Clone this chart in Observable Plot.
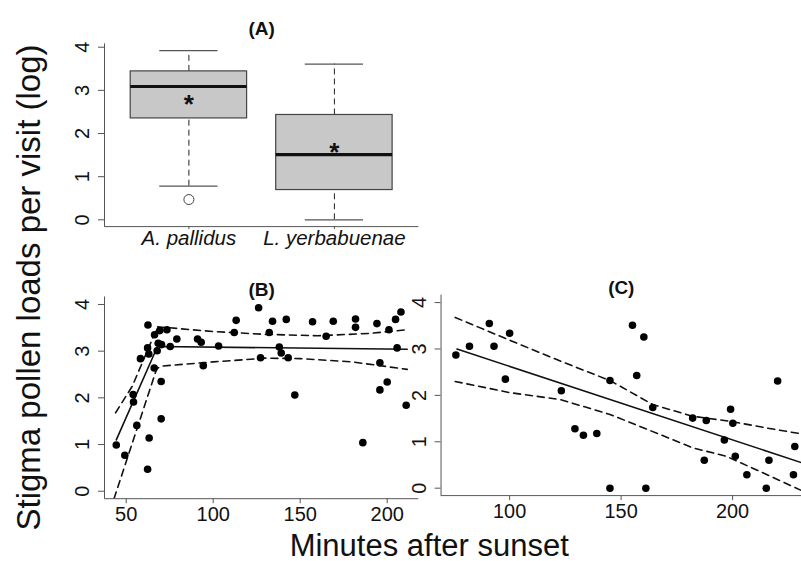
<!DOCTYPE html>
<html>
<head>
<meta charset="utf-8">
<script src="https://cdn.jsdelivr.net/npm/d3@7"></script>
<script src="https://cdn.jsdelivr.net/npm/@observablehq/plot@0.6"></script>
<style>
  html, body { margin: 0; padding: 0; background: #fff; }
  #chart { position: relative; width: 801px; height: 561px; overflow: hidden; background: #fff; }
  #chart svg { position: absolute; left: 0; top: 0; }
</style>
</head>
<body>
<div id="chart"></div>
<script>
// ---------------- DATA ----------------
// Panel A: box plots
const speciesA = ["A. pallidus", "L. yerbabuenae"];
const whiskerLow = [0.78, 0.0];
const quartile1 = [2.35, 0.69];
const medianA = [3.09, 1.51];
const quartile3 = [3.44, 2.43];
const whiskerHigh = [3.92, 3.61];
const meanA = [2.80, 1.68];
const outlierSpecies = ["A. pallidus"];
const outlierValues = [0.47];

// Panel B: A. pallidus visits
const bMinutes = [44.3, 49.2, 54.0, 54.2, 56.1, 58.2, 62.5, 62.3, 63.0, 63.2, 62.3, 66.3, 69.3, 73.4, 68.4, 70.3, 67.8, 66.1, 70.1, 70.1, 75.3, 79.1, 91.0, 93.1, 94.3, 103.1, 112.1, 113.2, 126.1, 127.2, 132.2, 134.1, 138.0, 139.1, 142.0, 143.1, 146.9, 157.1, 164.9, 169.0, 181.8, 181.8, 186.0, 194.1, 195.8, 195.8, 200.0, 201.0, 204.8, 205.7, 207.9, 210.9];
const bLoads   = [0.99, 0.77, 2.07, 1.91, 1.41, 2.84, 3.56, 3.07, 2.94, 1.14, 0.47, 3.35, 3.44, 3.46, 3.17, 3.14, 3.01, 2.64, 2.35, 1.55, 3.10, 3.26, 3.26, 3.19, 2.69, 3.11, 3.40, 3.66, 3.93, 2.86, 3.40, 3.64, 3.09, 2.96, 3.68, 2.86, 2.06, 3.63, 3.32, 3.64, 3.69, 3.51, 1.04, 3.59, 2.75, 2.17, 2.34, 3.46, 3.68, 3.07, 3.84, 1.84];
const bFitMinutes = [44.3, 68.0, 211.5];
const bFitLoads   = [1.10, 3.10, 3.04];
const bUpperMinutes = [43.9, 53.5, 68.0, 75, 100, 130, 160, 190, 211.5];
const bUpperLoads   = [1.68, 2.25, 3.52, 3.50, 3.42, 3.36, 3.33, 3.38, 3.46];
const bLowerMinutes = [43.0, 67.5, 70, 100, 130, 150, 180, 211.5];
const bLowerLoads   = [-0.16, 2.62, 2.68, 2.77, 2.85, 2.84, 2.77, 2.61];

// Panel C: L. yerbabuenae visits
const cMinutes = [75.9, 82.0, 90.9, 93.0, 100.0, 98.1, 123.2, 129.3, 133.1, 139.1, 145.0, 145.0, 155.1, 157.0, 160.2, 161.1, 164.2, 182.1, 187.3, 188.2, 196.3, 199.1, 200.1, 201.2, 206.4, 215.1, 216.3, 220.2, 227.3, 227.9];
const cLoads   = [2.87, 3.06, 3.55, 3.06, 3.34, 2.35, 2.10, 1.28, 1.14, 1.18, 2.32, 0.0, 3.51, 2.43, 3.26, 0.0, 1.74, 1.51, 0.60, 1.46, 1.04, 1.70, 1.40, 0.69, 0.29, 0.0, 0.60, 2.31, 0.29, 0.90];
const cFitMinutes = [76.4, 230.9];
const cFitLoads   = [3.00, 0.55];
const cUpperMinutes = [75.6, 100, 122.7, 145, 164.3, 182.1, 199.1, 215, 230.9];
const cUpperLoads   = [3.68, 3.19, 2.74, 2.32, 1.80, 1.55, 1.44, 1.30, 1.17];
const cLowerMinutes = [75.6, 100, 122.7, 145, 167.3, 182.1, 197, 211.8, 230.9];
const cLowerLoads   = [2.30, 2.06, 1.91, 1.59, 1.16, 0.87, 0.69, 0.37, -0.05];

// Tick values & labels
const yTicks = [0, 1, 2, 3, 4];
const bTicks = [50, 100, 150, 200];
const cTicks = [100, 150, 200];
const panelTitles = ["(A)", "(B)", "(C)"];
const yAxisLabel = "Stigma pollen loads per visit (log)";
const xAxisLabel = "Minutes after sunset";

// ---------------- STYLE ----------------
const W = 801, H = 561;
const FONT = "'Liberation Sans', Arial, Helvetica, sans-serif";
const AX = "#555";
const TXT = "#111";
const baseStyle = {background: "transparent", fontFamily: FONT, color: TXT, overflow: "visible"};

function yTickMarks() {
  return [
    Plot.axisY({ticks: yTicks, tickSize: 6, tickFormat: () => "", stroke: AX, label: null}),
    Plot.text(yTicks, {y: d => d, text: d => String(d), frameAnchor: "left", dx: -22, rotate: -90,
      textAnchor: "middle", lineAnchor: "middle", fontSize: 20, fill: TXT})
  ];
}
function title(t, dy) {
  return Plot.text([t], {frameAnchor: "top", lineAnchor: "middle", dy, fontSize: 19, fontWeight: "bold", fill: TXT});
}

// ---------------- PANEL A ----------------
const boxes = speciesA.map((s, i) => ({
  species: s, pos: i + 1, lo: whiskerLow[i], q1: quartile1[i], med: medianA[i],
  q3: quartile3[i], hi: whiskerHigh[i], mean: meanA[i]
}));
const outliers = outlierSpecies.map((s, i) => ({pos: speciesA.indexOf(s) + 1, value: outlierValues[i]}));
const xDomA = [0.42, 2.58], yDomA = [-0.157, 4.077];

const plotA = Plot.plot({
  width: W, height: H,
  marginLeft: 104, marginRight: W - 418.3, marginTop: 43.4, marginBottom: H - 226.1,
  x: {domain: xDomA, axis: null},
  y: {domain: yDomA, axis: null},
  style: baseStyle,
  marks: [
    Plot.ruleX([xDomA[0]], {stroke: AX}),
    Plot.ruleY([yDomA[0]], {stroke: AX}),
    ...yTickMarks(),
    Plot.axisX({ticks: [1, 2], tickSize: 3, tickPadding: 1, tickFormat: p => speciesA[p - 1],
      stroke: AX, fill: TXT, fontSize: 20.5, fontStyle: "italic", label: null}),
    // whiskers (dashed)
    Plot.ruleX(boxes, {x: "pos", y1: "q3", y2: "hi", stroke: "#222", strokeDasharray: "6,4"}),
    Plot.ruleX(boxes, {x: "pos", y1: "lo", y2: "q1", stroke: "#222", strokeDasharray: "6,4"}),
    // staples
    Plot.ruleY(boxes, {y: "hi", x1: d => d.pos - 0.2, x2: d => d.pos + 0.2, stroke: AX, strokeWidth: 1.2}),
    Plot.ruleY(boxes, {y: "lo", x1: d => d.pos - 0.2, x2: d => d.pos + 0.2, stroke: AX, strokeWidth: 1.2}),
    // boxes
    Plot.rect(boxes, {x1: d => d.pos - 0.4, x2: d => d.pos + 0.4, y1: "q1", y2: "q3",
      fill: "#c8c8c8", stroke: "#444", strokeWidth: 1.2}),
    Plot.ruleY(boxes, {y: "med", x1: d => d.pos - 0.4, x2: d => d.pos + 0.4, stroke: "#111", strokeWidth: 3.2}),
    // means
    Plot.text(boxes, {x: "pos", y: "mean", text: () => "*", fontSize: 26, fontWeight: "bold", dy: 5.5, fill: "#111"}),
    // outliers
    Plot.dot(outliers, {x: "pos", y: "value", r: 5, stroke: "#444", fill: "white", strokeWidth: 1}),
    title(panelTitles[0], -14.6)
  ]
});

// ---------------- PANEL B ----------------
const bPoints = bMinutes.map((m, i) => ({m, v: bLoads[i]}));
const bFit = bFitMinutes.map((m, i) => ({m, v: bFitLoads[i]}));
const bUp = bUpperMinutes.map((m, i) => ({m, v: bUpperLoads[i]}));
const bLow = bLowerMinutes.map((m, i) => ({m, v: bLowerLoads[i]}));
const xDomB = [37.53, 218.16], yDomBC = [-0.16, 4.16];

const plotB = Plot.plot({
  width: W, height: H,
  marginLeft: 104, marginRight: W - 418.3, marginTop: 296.5, marginBottom: H - 498.2,
  x: {domain: xDomB, axis: null},
  y: {domain: yDomBC, axis: null},
  style: baseStyle,
  marks: [
    Plot.ruleX([xDomB[0]], {stroke: AX}),
    Plot.ruleY([yDomBC[0]], {stroke: AX}),
    ...yTickMarks(),
    Plot.axisX({ticks: bTicks, tickSize: 5, tickPadding: 3.5, stroke: AX, fill: TXT, fontSize: 20, label: null}),
    Plot.line(bUp, {x: "m", y: "v", stroke: "#111", strokeWidth: 1.6, strokeDasharray: "7,5", clip: true}),
    Plot.line(bLow, {x: "m", y: "v", stroke: "#111", strokeWidth: 1.6, strokeDasharray: "7,5", clip: true}),
    Plot.line(bFit, {x: "m", y: "v", stroke: "#111", strokeWidth: 1.6}),
    Plot.dot(bPoints, {x: "m", y: "v", r: 3.8, fill: "#000", stroke: "none"}),
    title(panelTitles[1], -7.5)
  ]
});

// ---------------- PANEL C ----------------
const cPoints = cMinutes.map((m, i) => ({m, v: cLoads[i]}));
const cFit = cFitMinutes.map((m, i) => ({m, v: cFitLoads[i]}));
const cUp = cUpperMinutes.map((m, i) => ({m, v: cUpperLoads[i]}));
const cLow = cLowerMinutes.map((m, i) => ({m, v: cLowerLoads[i]}));
const WC = 806;
const xDomC = [69.25, 230.9];

const plotC = Plot.plot({
  width: WC, height: H,
  marginLeft: 443.3, marginRight: 0, marginTop: 296.5, marginBottom: H - 498.2,
  x: {domain: xDomC, axis: null},
  y: {domain: yDomBC, axis: null},
  style: baseStyle,
  marks: [
    Plot.ruleX([xDomC[0]], {stroke: AX}),
    Plot.ruleY([yDomBC[0]], {stroke: AX}),
    ...yTickMarks(),
    Plot.axisX({ticks: cTicks, tickSize: 5, tickPadding: 3.5, stroke: AX, fill: TXT, fontSize: 20, label: null}),
    Plot.line(cUp, {x: "m", y: "v", stroke: "#111", strokeWidth: 1.6, strokeDasharray: "7,5", clip: true}),
    Plot.line(cLow, {x: "m", y: "v", stroke: "#111", strokeWidth: 1.6, strokeDasharray: "7,5", clip: true}),
    Plot.line(cFit, {x: "m", y: "v", stroke: "#111", strokeWidth: 1.6, clip: true}),
    Plot.dot(cPoints, {x: "m", y: "v", r: 3.8, fill: "#000", stroke: "none"}),
    title(panelTitles[2], -7.5)
  ]
});

// ---------------- ASSEMBLE ----------------
const chart = document.getElementById("chart");
[plotA, plotB, plotC].forEach(p => chart.appendChild(p));

const labels = d3.create("svg").attr("width", W).attr("height", H)
  .style("font-family", FONT).style("fill", TXT);
labels.append("text")
  .attr("transform", "translate(40,287.5) rotate(-90)")
  .attr("text-anchor", "middle")
  .style("font-size", "33px")
  .text(yAxisLabel);
labels.append("text")
  .attr("x", 429.2).attr("y", 555.5)
  .attr("text-anchor", "middle")
  .style("font-size", "31px")
  .text(xAxisLabel);
chart.appendChild(labels.node());
</script>
</body>
</html>
